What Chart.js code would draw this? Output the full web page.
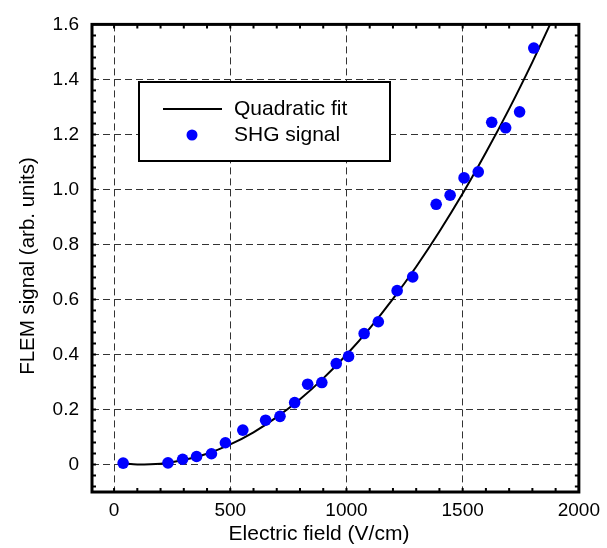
<!DOCTYPE html>
<html>
<head>
<meta charset="utf-8">
<script src="https://cdn.jsdelivr.net/npm/chart.js@4.4.1/dist/chart.umd.min.js"></script>
<style>
  html, body { margin: 0; padding: 0; background: #fff; }
  #wrap { width: 607px; height: 548px; }
</style>
</head>
<body>
<div id="wrap"><canvas id="flemChart"></canvas></div>
<script>
// SHG signal points
const fieldValues = [39, 232, 295, 355, 419, 479, 554, 652, 714, 777, 833, 894, 956, 1009,
  1076, 1137, 1218, 1285, 1386, 1446, 1506, 1567, 1625, 1685, 1745, 1806];
const shgSignal = [0.005, 0.006, 0.019, 0.029, 0.039, 0.079, 0.125, 0.161, 0.175, 0.225, 0.292, 0.298, 0.367, 0.393,
  0.476, 0.519, 0.632, 0.682, 0.946, 0.979, 1.042, 1.064, 1.244, 1.224, 1.282, 1.514];

// quadratic fit curve, sampled from the figure
const fitField = [40, 100, 200, 300, 400, 500, 600, 700, 800, 900, 1000, 1100, 1200, 1300,
  1400, 1500, 1600, 1700, 1800, 1900];
const fitSignal = [0.004, 0.000, 0.003, 0.016, 0.039, 0.073, 0.117, 0.172, 0.237, 0.313, 0.399, 0.495, 0.602, 0.719,
  0.847, 0.985, 1.134, 1.293, 1.463, 1.643];

const xTicks = [0, 500, 1000, 1500, 2000];
const yTicks = [0, 0.2, 0.4, 0.6, 0.8, 1.0, 1.2, 1.4, 1.6];
const seriesNames = ['Quadratic fit', 'SHG signal'];
const xTitle = 'Electric field (V/cm)';
const yTitle = 'FLEM signal (arb. units)';

const FONT = "'Liberation Sans', Arial, Helvetica, sans-serif";

// frame, inward minor ticks, axis titles and the boxed legend
const framePlugin = {
  id: 'framePlugin',
  afterDatasetsDraw(chart) {
    const { ctx, chartArea: a, scales: { x, y } } = chart;
    ctx.save();
    ctx.strokeStyle = '#000';
    ctx.lineWidth = 2;
    ctx.beginPath();
    for (let i = 0; i < 20; i++) {
      const px = x.getPixelForValue(i * 100);
      ctx.moveTo(px, a.bottom); ctx.lineTo(px, a.bottom - 4);
      ctx.moveTo(px, a.top); ctx.lineTo(px, a.top + 4);
    }
    for (let i = -2; i < 40; i++) {
      const py = y.getPixelForValue(i * 0.04);
      ctx.moveTo(a.left, py); ctx.lineTo(a.left + 4, py);
      ctx.moveTo(a.right, py); ctx.lineTo(a.right - 4, py);
    }
    ctx.stroke();

    ctx.lineWidth = 3;
    ctx.strokeRect(a.left, a.top, a.right - a.left, a.bottom - a.top);

    // legend
    ctx.lineWidth = 2;
    ctx.fillStyle = '#fff';
    ctx.fillRect(139, 82, 251, 79);
    ctx.strokeRect(139, 82, 251, 79);
    ctx.beginPath();
    ctx.moveTo(163, 109); ctx.lineTo(222, 109);
    ctx.stroke();
    ctx.fillStyle = '#0000ff';
    ctx.beginPath();
    ctx.arc(192, 135, 5.5, 0, Math.PI * 2);
    ctx.fill();
    ctx.fillStyle = '#000';
    ctx.font = '21px ' + FONT;
    ctx.textBaseline = 'middle';
    ctx.fillText(chart.data.datasets[0].label, 234, 109);
    ctx.fillText(chart.data.datasets[1].label, 234, 135);

    // axis titles
    ctx.textAlign = 'center';
    ctx.fillText(xTitle, 319, 534);
    ctx.translate(28, 266);
    ctx.rotate(-Math.PI / 2);
    ctx.font = '20.5px ' + FONT;
    ctx.fillText(yTitle, 0, 0);
    ctx.restore();
  }
};

new Chart(document.getElementById('flemChart'), {
  type: 'scatter',
  data: {
    datasets: [
      {
        label: seriesNames[0],
        data: fitField.map((v, i) => ({ x: v, y: fitSignal[i] })),
        showLine: true,
        borderColor: '#000',
        borderWidth: 2,
        pointRadius: 0,
        cubicInterpolationMode: 'monotone',
        order: 2
      },
      {
        label: seriesNames[1],
        data: fieldValues.map((v, i) => ({ x: v, y: shgSignal[i] })),
        backgroundColor: '#0000ff',
        borderWidth: 0,
        pointRadius: 5.8,
        order: 1
      }
    ]
  },
  options: {
    responsive: true,
    maintainAspectRatio: false,
    animation: false,
    layout: { padding: { top: 14, right: 27, left: 0, bottom: 0 } },
    plugins: { legend: { display: false }, tooltip: { enabled: false } },
    scales: {
      x: {
        type: 'linear',
        min: -95,
        max: 2000,
        afterFit: s => { s.height = 56; },
        afterBuildTicks: s => { s.ticks = xTicks.map(v => ({ value: v })); },
        grid: { color: '#333', lineWidth: 1, drawTicks: false },
        border: { display: false, dash: [7, 4] },
        ticks: { color: '#000', padding: 7, font: { family: FONT, size: 19 }, callback: v => String(v) }
      },
      y: {
        type: 'linear',
        min: -0.1,
        max: 1.6,
        afterFit: s => { s.width = 92; },
        afterBuildTicks: s => { s.ticks = yTicks.map(v => ({ value: v })); },
        grid: { color: '#333', lineWidth: 1, drawTicks: false },
        border: { display: false, dash: [7, 4] },
        ticks: { color: '#000', padding: 13, font: { family: FONT, size: 19 }, callback: v => (v === 0 ? '0' : v.toFixed(1)) }
      }
    }
  },
  plugins: [framePlugin]
});
</script>
</body>
</html>
